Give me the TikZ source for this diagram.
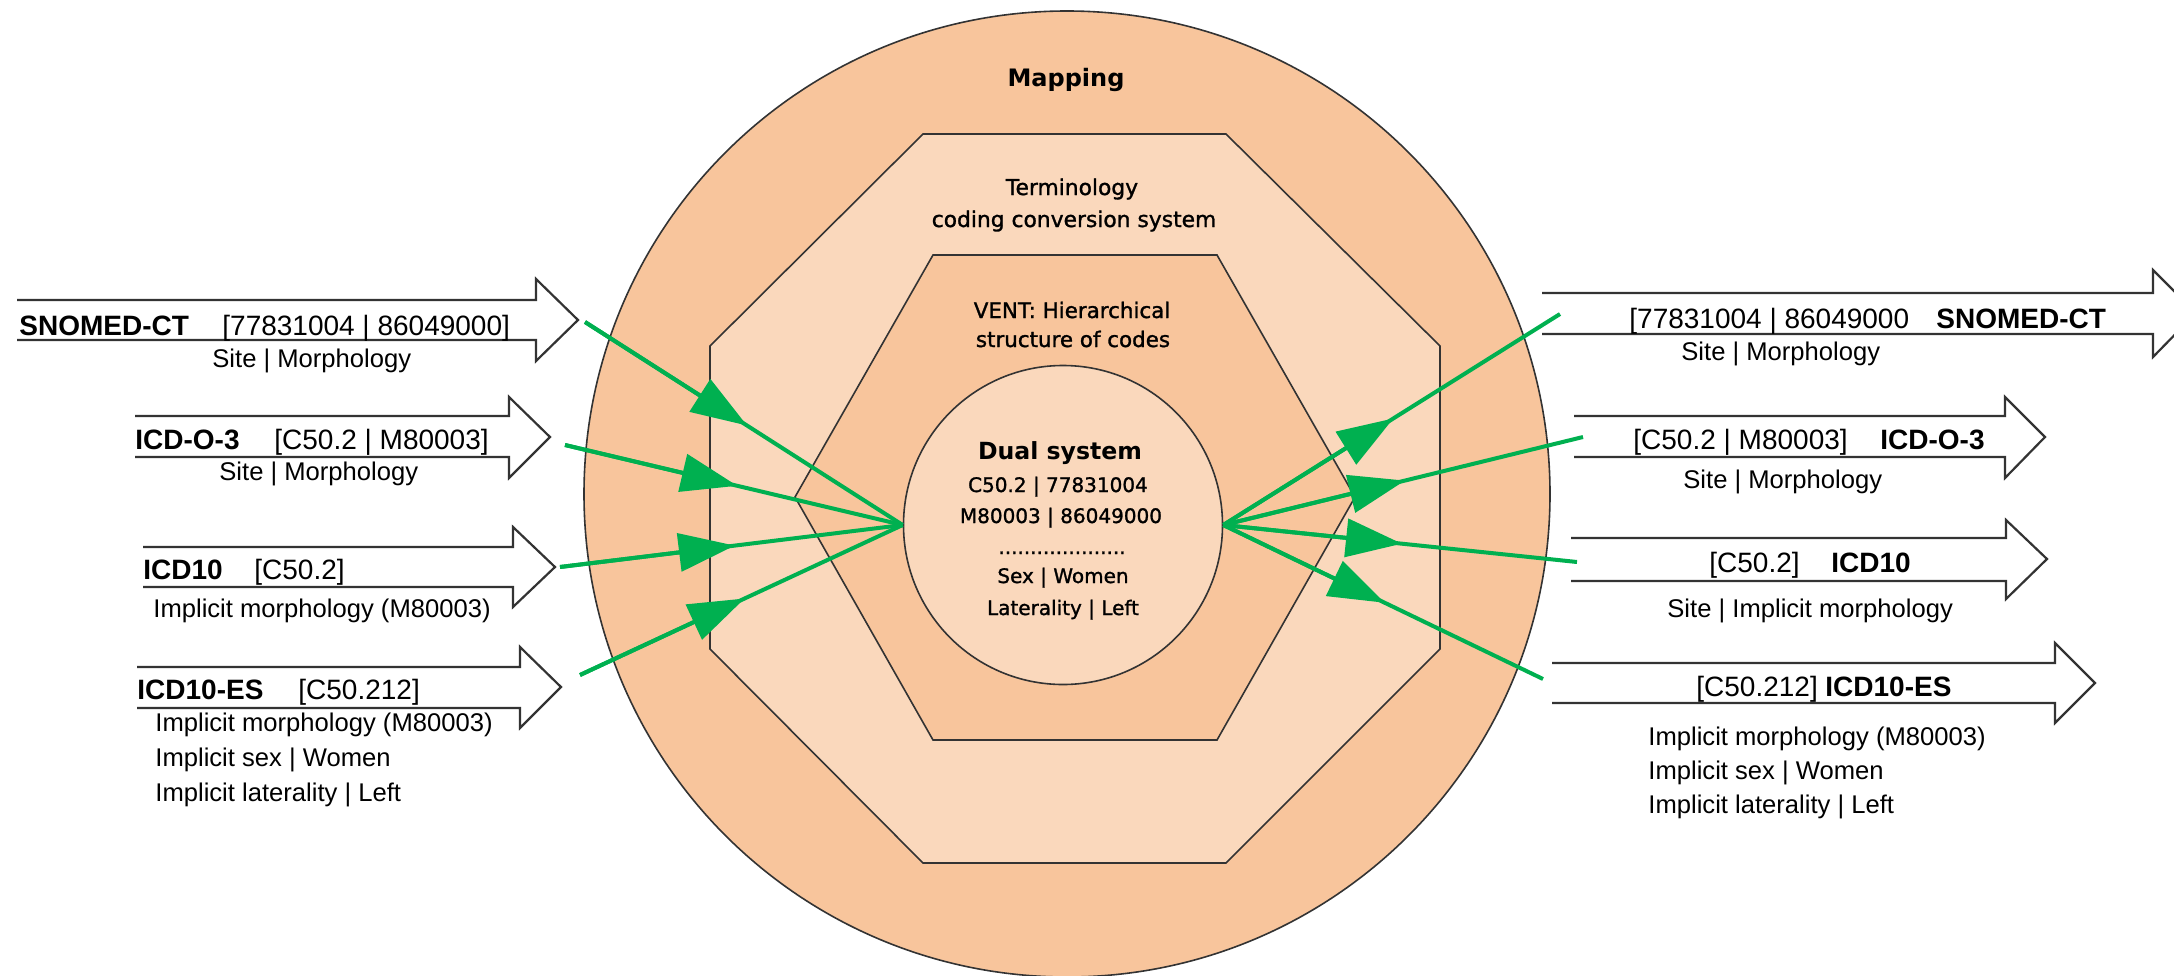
\documentclass[tikz,border=0pt]{standalone}
\usepackage{fontspec}
\setmainfont{Liberation Sans}
\newfontfamily\dvfont{DejaVu Sans}[FakeBold=1.3]
\newfontfamily\dvbold{DejaVu Sans Bold}
\usetikzlibrary{arrows.meta,calc}
\definecolor{peach}{HTML}{F8C59C}
\definecolor{lightpeach}{HTML}{FAD8BC}
\definecolor{grn}{HTML}{00B050}
\begin{document}
\begin{tikzpicture}[x=0.5pt,y=-0.5pt,
  ringline/.style={draw=black!80, line width=0.8pt, line join=miter},
  blockarrow/.style={draw=black!80, line width=1.1pt, line join=miter},
  greenline/.style={draw=grn, line width=2pt},
  greenhead/.style={draw=grn, fill=grn, line width=2pt, -{Triangle[length=28pt,width=19pt]}},
  codebold/.style={inner sep=0pt, anchor=base west, font=\fontsize{14pt}{16pt}\selectfont\bfseries},
  codetxt/.style={inner sep=0pt, anchor=base west, font=\fontsize{14pt}{16pt}\selectfont},
  subtxt/.style={inner sep=0pt, anchor=base west, font=\fontsize{12.8pt}{15pt}\selectfont},
  innerbold/.style={inner sep=0pt, anchor=base, font=\dvbold\fontsize{12pt}{14pt}\selectfont},
  innertxt/.style={inner sep=0pt, anchor=base, font=\dvfont\fontsize{10.9pt}{13pt}\selectfont},
  dualtxt/.style={inner sep=0pt, anchor=base, font=\dvfont\fontsize{10pt}{12pt}\selectfont}
]
\useasboundingbox (0,0) rectangle (2174,975);
\fill[white] (0,0) rectangle (2174,975);

% rings
\path[ringline, fill=peach] (1067,494) circle[radius=483];
\path[ringline, fill=lightpeach] (923,134) -- (1226,134) -- (1440,346) -- (1440,649)
  -- (1226,863) -- (923,863) -- (710,649) -- (710,346) -- cycle;
\path[ringline, fill=peach] (933,255) -- (1217,255) -- (1355,497) -- (1217,740)
  -- (933,740) -- (795,497) -- cycle;
\node[ringline, fill=lightpeach, circle, inner sep=0pt, minimum size=159.5pt] (dual) at (1063,525) {};

% ring texts
\node[innerbold] (mapping) at (1066,86) {Mapping};
\node[innertxt] (term1) at (1072,195) {Terminology};
\node[innertxt] (term2) at (1074,227) {coding conversion system};
\node[innertxt, font=\dvfont\fontsize{10.7pt}{13pt}\selectfont] (vent1) at (1072,318) {VENT: Hierarchical};
\node[innertxt, font=\dvfont\fontsize{10.7pt}{13pt}\selectfont] (vent2) at (1073,347) {structure of codes};
\node[innerbold, font=\dvbold\fontsize{11.8pt}{14pt}\selectfont] (dualtitle) at (1060,459) {Dual system};
\node[dualtxt] (d1) at (1058,492) {C50.2 | 77831004};
\node[dualtxt] (d2) at (1061,523) {M80003 | 86049000};
\node[dualtxt] (d3) at (1062,554) {....................};
\node[dualtxt] (d4) at (1063,583) {Sex | Women};
\node[dualtxt] (d5) at (1063,615) {Laterality | Left};

% green connectors
\coordinate (a1) at (585,322);
\coordinate (a2) at (565,445);
\coordinate (a3) at (560,567);
\coordinate (a4) at (580,675);
\coordinate (b1) at (1560,314);
\coordinate (b2) at (1583,437);
\coordinate (b3) at (1577,562);
\coordinate (b4) at (1543,679);
\foreach \s in {a1,a2,a3,a4} {
  \draw[greenline] (\s) -- (dual.west);
  \draw[greenhead] (\s) -- ($(\s)!0.51!(dual.west)$);
}
\foreach \t in {b1,b2,b3,b4} {
  \draw[greenline] (dual.east) -- (\t);
  \draw[greenhead] (dual.east) -- ($(dual.east)!0.505!(\t)$);
}

% left block arrows
\draw[blockarrow] (17,300) -- (536,300) -- (536,279) -- (578,320) -- (536,361) -- (536,340) -- (17,340);
\draw[blockarrow] (135,416) -- (509,416) -- (509,397) -- (550,437) -- (509,478) -- (509,457) -- (135,457);
\draw[blockarrow] (143,547) -- (513,547) -- (513,527) -- (555,567) -- (513,607) -- (513,587) -- (143,587);
\draw[blockarrow] (137,667) -- (520,667) -- (520,647) -- (561,687) -- (520,728) -- (520,708) -- (137,708);

% right block arrows
\draw[blockarrow] (1542,293) -- (2153,293) -- (2153,270) -- (2196,313) -- (2153,357) -- (2153,334) -- (1542,334);
\draw[blockarrow] (1574,416) -- (2005,416) -- (2005,397) -- (2045,437) -- (2005,478) -- (2005,457) -- (1574,457);
\draw[blockarrow] (1571,538) -- (2006,538) -- (2006,520) -- (2047,559) -- (2006,599) -- (2006,581) -- (1571,581);
\draw[blockarrow] (1552,663) -- (2055,663) -- (2055,643) -- (2095,683) -- (2055,723) -- (2055,703) -- (1552,703);

% left texts
\node[codebold] (l1lab) at (19,335) {SNOMED-CT};
\node[codetxt] (l1code) at (222,335) {[77831004 | 86049000]};
\node[subtxt] (l1sub) at (212,367) {Site | Morphology};
\node[codebold] (l2lab) at (135,449) {ICD-O-3};
\node[codetxt] (l2code) at (274,449) {[C50.2 | M80003]};
\node[subtxt] (l2sub) at (219,480) {Site | Morphology};
\node[codebold] (l3lab) at (143,579) {ICD10};
\node[codetxt] (l3code) at (254,579) {[C50.2]};
\node[subtxt] (l3sub) at (153,617) {Implicit morphology (M80003)};
\node[codebold] (l4lab) at (137,699) {ICD10-ES};
\node[codetxt] (l4code) at (298,699) {[C50.212]};
\node[subtxt] (l4sub1) at (155,731) {Implicit morphology (M80003)};
\node[subtxt] (l4sub2) at (155,766) {Implicit sex | Women};
\node[subtxt] (l4sub3) at (155,801) {Implicit laterality | Left};

% right texts
\node[codetxt] (r1code) at (1629,328) {[77831004 | 86049000};
\node[codebold] (r1lab) at (1936,328) {SNOMED-CT};
\node[subtxt] (r1sub) at (1681,360) {Site | Morphology};
\node[codetxt] (r2code) at (1633,449) {[C50.2 | M80003]};
\node[codebold] (r2lab) at (1880,449) {ICD-O-3};
\node[subtxt] (r2sub) at (1683,488) {Site | Morphology};
\node[codetxt] (r3code) at (1709,572) {[C50.2]};
\node[codebold] (r3lab) at (1831,572) {ICD10};
\node[subtxt] (r3sub) at (1667,617) {Site | Implicit morphology};
\node[codetxt] (r4code) at (1696,696) {[C50.212]};
\node[codebold] (r4lab) at (1825,696) {ICD10-ES};
\node[subtxt] (r4sub1) at (1648,745) {Implicit morphology (M80003)};
\node[subtxt] (r4sub2) at (1648,779) {Implicit sex | Women};
\node[subtxt] (r4sub3) at (1648,813) {Implicit laterality | Left};
\end{tikzpicture}
\end{document}
